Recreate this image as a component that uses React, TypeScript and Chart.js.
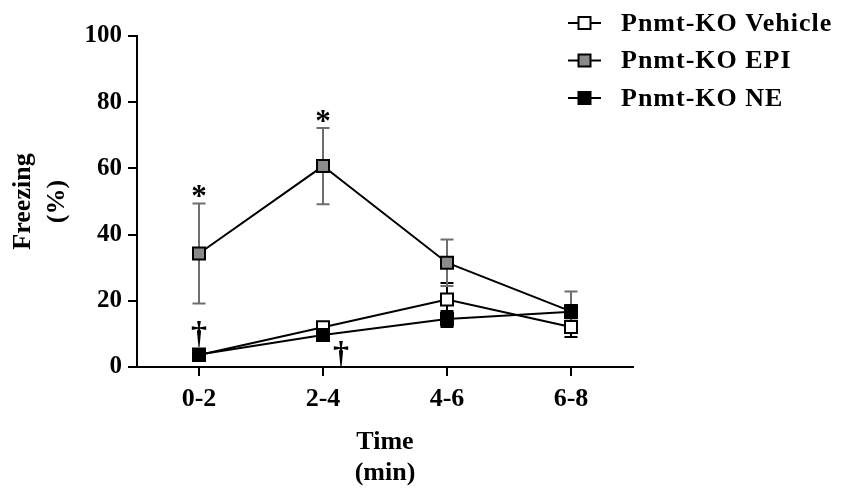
import React, { useRef, useEffect } from 'react';
import { Chart, registerables } from 'chart.js';
import type { Plugin } from 'chart.js';

Chart.register(...registerables);

// time bins (min)
const categories = ['0-2', '2-4', '4-6', '6-8'];

// freezing (%) means and error bars
const vehicleMean = [3.6, 12.0, 20.4, 12.1];
const vehicleErr = [1.0, 1.5, 5.0, 3.0];
const epiMean = [34.3, 60.7, 31.5, 16.8];
const epiErr = [15.1, 11.5, 7.0, 6.0];
const neMean = [3.8, 9.7, 14.5, 16.7];
const neErr = [1.0, 1.0, 2.4, 2.0];

const yTicks = [0, 20, 40, 60, 80, 100];

// significance marks
const asteriskAt = [0, 1]; // EPI vs vehicle
const daggerAt = [0, 1]; // NE vs EPI

const FONT = '"Liberation Serif", "Times New Roman", serif';

const errorBars: Plugin<'line'> = {
  id: 'errorBars',
  beforeDatasetsDraw(chart) {
    const { ctx } = chart;
    const x = chart.scales.x;
    const y = chart.scales.y;
    ctx.save();
    chart.data.datasets.forEach((ds: any) => {
      const errs: number[] = ds.errors || [];
      ctx.strokeStyle = ds.errorColor || '#000';
      ctx.lineWidth = 2;
      (ds.data as number[]).forEach((v, i) => {
        const px = x.getPixelForValue(i);
        const top = y.getPixelForValue(v + errs[i]);
        const bot = y.getPixelForValue(v - errs[i]);
        ctx.beginPath();
        ctx.moveTo(px, top);
        ctx.lineTo(px, bot);
        ctx.moveTo(px - 6.5, top);
        ctx.lineTo(px + 6.5, top);
        ctx.moveTo(px - 6.5, bot);
        ctx.lineTo(px + 6.5, bot);
        ctx.stroke();
      });
    });
    ctx.restore();
  },
};

const marks: Plugin<'line'> = {
  id: 'marks',
  afterDatasetsDraw(chart) {
    const { ctx, chartArea } = chart;
    const x = chart.scales.x;
    const y = chart.scales.y;
    ctx.save();
    ctx.fillStyle = '#000';
    ctx.textAlign = 'center';
    ctx.textBaseline = 'alphabetic';
    ctx.font = `bold 31px ${FONT}`;
    asteriskAt.forEach((i) => {
      const top = y.getPixelForValue(epiMean[i] + epiErr[i]);
      ctx.fillText('*', x.getPixelForValue(i), top + 3);
    });
    ctx.font = `bold 32px ${FONT}`;
    // first dagger sits on the NE point, second one beside it on the axis
    const d0 = daggerAt[0];
    ctx.fillText('†', x.getPixelForValue(d0), y.getPixelForValue(neMean[d0]) - 11);
    const d1 = daggerAt[1];
    ctx.fillText('†', x.getPixelForValue(d1) + 18, chartArea.bottom - 4);
    ctx.restore();
  },
};

const sideLegend: Plugin<'line'> = {
  id: 'sideLegend',
  afterDraw(chart) {
    const { ctx } = chart;
    ctx.save();
    ctx.font = `bold 26px ${FONT}`;
    (ctx as any).letterSpacing = '1px';
    ctx.textBaseline = 'middle';
    ctx.textAlign = 'left';
    chart.data.datasets.forEach((ds: any, i) => {
      const cy = 23 + i * 37.5;
      ctx.strokeStyle = '#000';
      ctx.lineWidth = 2;
      ctx.beginPath();
      ctx.moveTo(568, cy);
      ctx.lineTo(601, cy);
      ctx.stroke();
      ctx.fillStyle = ds.pointBackgroundColor;
      ctx.fillRect(578.5, cy - 6, 12, 12);
      ctx.strokeRect(578.5, cy - 6, 12, 12);
      ctx.fillStyle = '#000';
      ctx.fillText(ds.label, 621, cy + 1);
    });
    ctx.restore();
  },
};

const FreezingChart: React.FC = () => {
  const canvasRef = useRef<HTMLCanvasElement>(null);
  const chartRef = useRef<Chart | null>(null);

  useEffect(() => {
    document.body.style.margin = '0';
    if (!canvasRef.current) return;
    if (chartRef.current) chartRef.current.destroy();

    const point = {
      borderColor: '#000',
      borderWidth: 2,
      pointStyle: 'rect' as const,
      pointRadius: 8.5,
      pointHoverRadius: 8.5,
      pointBorderColor: '#000',
      pointBorderWidth: 2,
      tension: 0,
    };

    chartRef.current = new Chart(canvasRef.current, {
      type: 'line',
      data: {
        labels: categories,
        datasets: [
          {
            ...point,
            label: 'Pnmt-KO Vehicle',
            data: vehicleMean,
            pointBackgroundColor: '#ffffff',
            order: 3,
            errors: vehicleErr,
            errorColor: '#000',
          } as any,
          {
            ...point,
            label: 'Pnmt-KO EPI',
            data: epiMean,
            pointBackgroundColor: '#8a8a8a',
            order: 2,
            errors: epiErr,
            errorColor: '#6e6e6e',
          } as any,
          {
            ...point,
            label: 'Pnmt-KO NE',
            data: neMean,
            pointBackgroundColor: '#000000',
            order: 1,
            errors: neErr,
            errorColor: '#000',
          } as any,
        ],
      },
      options: {
        responsive: true,
        maintainAspectRatio: false,
        animation: false,
        layout: { padding: { top: 36, right: 217, left: 0, bottom: 0 } },
        plugins: {
          legend: { display: false },
          tooltip: { enabled: false },
        },
        scales: {
          x: {
            offset: true,
            afterFit: (scale) => {
              scale.height = 130;
            },
            grid: {
              offset: false,
              drawOnChartArea: false,
              drawTicks: true,
              tickLength: 9,
              color: '#000',
              lineWidth: 2,
            },
            border: { display: true, color: '#000', width: 2 },
            ticks: {
              color: '#000',
              padding: 8,
              font: { family: FONT, size: 26, weight: 'bold' },
            },
            title: {
              display: true,
              text: ['Time', '(min)'],
              color: '#000',
              padding: { top: 0, bottom: 8 },
              font: { family: FONT, size: 26, weight: 'bold', lineHeight: '31px' },
            },
          },
          y: {
            min: 0,
            max: 100,
            afterFit: (scale) => {
              scale.width = 137;
            },
            afterBuildTicks: (scale) => {
              scale.ticks = yTicks.map((v) => ({ value: v }));
            },
            grid: {
              drawOnChartArea: false,
              drawTicks: true,
              tickLength: 9,
              color: '#000',
              lineWidth: 2,
            },
            border: { display: true, color: '#000', width: 2 },
            ticks: {
              color: '#000',
              padding: 6,
              font: { family: FONT, size: 25, weight: 'bold' },
            },
            title: {
              display: true,
              text: ['Freezing', '(%)'],
              color: '#000',
              padding: { top: 6, bottom: 0 },
              font: { family: FONT, size: 26, weight: 'bold', lineHeight: '34px' },
            },
          },
        },
      },
      plugins: [errorBars, marks, sideLegend],
    });

    return () => {
      if (chartRef.current) {
        chartRef.current.destroy();
        chartRef.current = null;
      }
    };
  }, []);

  return (
    <div style={{ width: 850, height: 497, position: 'relative', background: '#fff' }}>
      <canvas ref={canvasRef} />
    </div>
  );
};

export default function App() {
  return <FreezingChart />;
}
